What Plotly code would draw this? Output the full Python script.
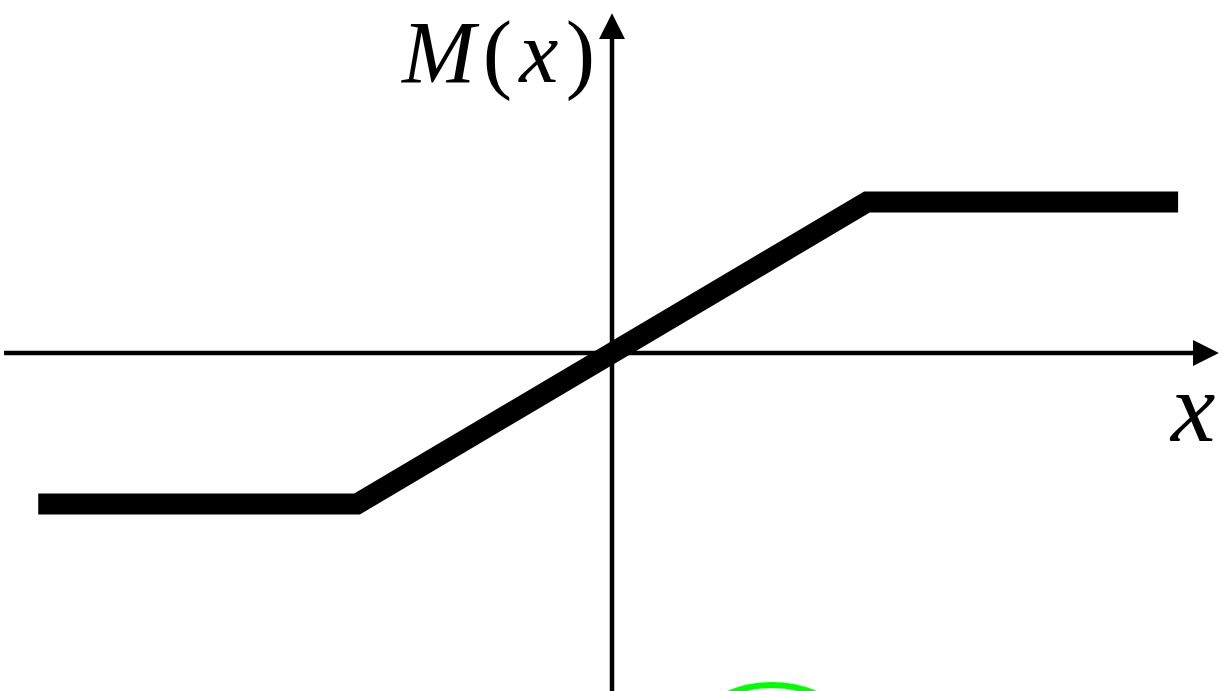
import plotly.graph_objects as go

# Saturating response M(x): flat, linear ramp, flat
x_knots = [-2.25, -1.0, 1.0, 2.22]
m_values = [-1.0, -1.0, 1.0, 1.0]

# Axis extents (data units)
x_axis_span = [-2.39, 2.38]
y_axis_span = [-2.40, 2.25]

W, H = 1222, 691
px_per_x = 255.0
px_per_y = 151.0
origin_px = (612.0, 353.0)

x_range = [-origin_px[0] / px_per_x, (W - origin_px[0]) / px_per_x]
y_range = [-(H - origin_px[1]) / px_per_y, origin_px[1] / px_per_y]

fig = go.Figure()

fig.add_trace(go.Scatter(
    x=x_knots, y=m_values, mode="lines",
    line=dict(color="black", width=21),
    hoverinfo="skip", showlegend=False,
))

# Axes drawn as arrows
axis_arrow = dict(showarrow=True, text="", xref="x", yref="y", axref="x", ayref="y",
                  arrowhead=2, arrowsize=1.15, arrowwidth=4.5, arrowcolor="black")
fig.add_annotation(x=x_axis_span[1], y=0, ax=x_axis_span[0], ay=0, **axis_arrow)
fig.add_annotation(x=0, y=y_axis_span[1], ax=0, ay=y_axis_span[0], **axis_arrow)

label_font = "Liberation Serif"
fig.add_annotation(x=(497 - origin_px[0]) / px_per_x, y=(origin_px[1] - 2) / px_per_y,
                   xref="x", yref="y", showarrow=False, yanchor="top",
                   text="<i>M</i>\u200a(\u200a<i>x</i>\u200a)",
                   font=dict(family=label_font, size=88, color="black"))
fig.add_annotation(x=(1192 - origin_px[0]) / px_per_x, y=(origin_px[1] - 407) / px_per_y,
                   xref="x", yref="y", showarrow=False,
                   text="<i>x</i>",
                   font=dict(family=label_font, size=100, color="black"))

# Green arc peeking in at the bottom edge
cx, cy, r = 772.0, 799.0, 114.0
fig.add_shape(type="circle", xref="x", yref="y",
              x0=(cx - r - origin_px[0]) / px_per_x, x1=(cx + r - origin_px[0]) / px_per_x,
              y0=(origin_px[1] - (cy + r)) / px_per_y, y1=(origin_px[1] - (cy - r)) / px_per_y,
              line=dict(color="#00ff00", width=6))

fig.update_layout(
    width=W, height=H,
    margin=dict(l=0, r=0, t=0, b=0),
    paper_bgcolor="white", plot_bgcolor="white",
    xaxis=dict(range=x_range, visible=False, fixedrange=True),
    yaxis=dict(range=y_range, visible=False, fixedrange=True),
)

fig.write_html("out.html")
